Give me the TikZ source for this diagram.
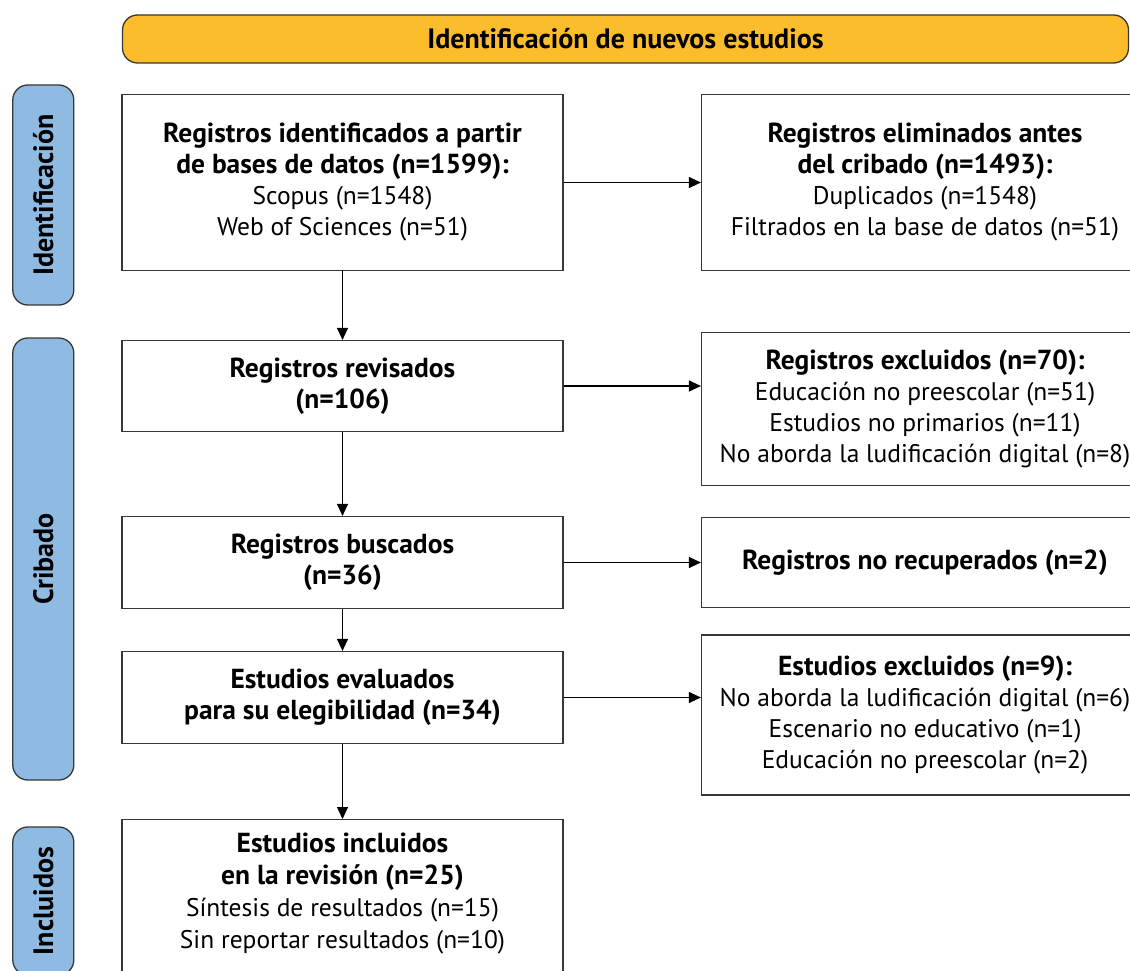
\documentclass[tikz,border=0pt]{standalone}
\usepackage{fontspec}
\setmainfont{PT Sans}
\usetikzlibrary{arrows.meta}
\definecolor{hdryellow}{RGB}{252,189,44}
\definecolor{phaseblue}{RGB}{143,187,227}
\definecolor{edgegray}{RGB}{55,55,55}
\newcommand{\hd}[1]{{\fontsize{27.5}{31}\selectfont\bfseries #1}}

\begin{document}
\begin{tikzpicture}[x=1pt,y=-1pt]
      \useasboundingbox (0,0) rectangle (1130,971);
      % header and phases
      \begin{scope}[every node/.style={draw=edgegray,line width=1.3pt,rounded corners=15pt,
          font=\fontsize{28}{31}\selectfont\bfseries}]
        \node[fill=hdryellow,minimum width=1006pt,minimum height=48pt] (t) at (625.5,39) {Identificación de nuevos estudios};
        \node[fill=phaseblue,minimum width=220pt,minimum height=61pt,rotate=90] (s1) at (43.3,195) {Identificación};
        \node[fill=phaseblue,minimum width=442pt,minimum height=61pt,rotate=90] (s2) at (43.3,559) {Cribado};
        \node[fill=phaseblue,minimum width=148pt,minimum height=61pt,rotate=90] (s3) at (43.3,901) {Incluidos};
      \end{scope}
      \begin{scope}[every node/.style={draw=edgegray,line width=1.2pt,align=center,inner sep=0pt,
          font=\fontsize{25.5}{31}\selectfont}]
        \node[minimum width=441pt,minimum height=176pt] (1) at (342.5,182.5)
          {\hd{Registros identificados a partir}\\\hd{de bases de datos (n=1599):}\\Scopus (n=1548)\\Web of Sciences (n=51)};
        \node[minimum width=441pt,minimum height=91pt] (2) at (342.5,386) {\hd{Registros revisados}\\\hd{(n=106)}};
        \node[minimum width=441pt,minimum height=92pt] (3) at (342.5,562.5) {\hd{Registros buscados}\\\hd{(n=36)}};
        \node[minimum width=441pt,minimum height=92pt] (4) at (342.5,697.5) {\hd{Estudios evaluados}\\\hd{para su elegibilidad (n=34)}};
        \node[minimum width=441pt,minimum height=200pt,anchor=north] (5) at (342.5,819) {};
        \node[draw=none,anchor=north,font=\fontsize{25.5}{32}\selectfont] (5t) at (342.5,832)
          {\hd{Estudios incluidos}\\\hd{en la revisión (n=25)}\\Síntesis de resultados (n=15)\\Sin reportar resultados (n=10)};
        \node[minimum width=447pt,minimum height=176pt] (6) at (925,182.5)
          {\hd{Registros eliminados antes}\\\hd{del cribado (n=1493):}\\Duplicados (n=1548)\\Filtrados en la base de datos (n=51)};
        \node[minimum width=447pt,minimum height=153pt] (7) at (925,409)
          {\hd{Registros excluidos (n=70):}\\Educación no preescolar (n=51)\\Estudios no primarios (n=11)\\No aborda la ludificación digital (n=8)};
        \node[minimum width=447pt,minimum height=90pt] (8) at (925,562.5) {\hd{Registros no recuperados (n=2)}};
        \node[minimum width=447pt,minimum height=160pt] (9) at (925,715)
          {\hd{Estudios excluidos (n=9):}\\No aborda la ludificación digital (n=6)\\Escenario no educativo (n=1)\\Educación no preescolar (n=2)};
      \end{scope}
      \begin{scope}[>={Triangle[length=12pt,width=11pt]},
          every edge/.style={draw=black,line width=1.2pt,->}]
        \path (1) edge (2);
        \path (2) edge (3);
        \path (3) edge (4);
        \path (4) edge (5);
        \path (1) edge (1 -| 6.west);
        \path (2) edge (2 -| 7.west);
        \path (3) edge (3 -| 8.west);
        \path (4) edge (4 -| 9.west);
      \end{scope}
    \end{tikzpicture}
\end{document}
